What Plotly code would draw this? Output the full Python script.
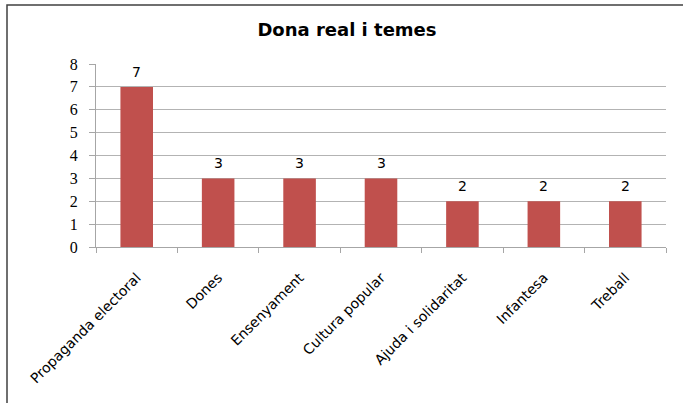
import plotly.graph_objects as go

categories = ["Propaganda electoral", "Dones", "Ensenyament", "Cultura popular",
              "Ajuda i solidaritat", "Infantesa", "Treball"]
values = [7, 3, 3, 3, 2, 2, 2]
y_ticks = [0, 1, 2, 3, 4, 5, 6, 7, 8]

fig = go.Figure(go.Bar(
    x=categories, y=values,
    marker=dict(color="#C0504D", line=dict(width=0)),
))

for c, v in zip(categories, values):
    fig.add_annotation(x=c, y=v, text=str(v), showarrow=False, yanchor="bottom",
                       yshift=5, font=dict(family="DejaVu Sans", size=14, color="#000000"))

fig.update_layout(
    width=683, height=403,
    margin=dict(l=96, r=17, t=64, b=156),
    paper_bgcolor="white", plot_bgcolor="white",
    bargap=0.6,
    showlegend=False,
    title=dict(text="<b>Dona real i temes</b>", x=0.508, xanchor="center",
               y=1 - 30 / 403, yanchor="middle", yref="container",
               font=dict(family="DejaVu Sans", size=18, color="#000000")),
    xaxis=dict(type="category", showgrid=False, showline=True, linecolor="#a6a6a6",
               ticks="outside", tickson="boundaries", ticklen=5, tickcolor="#a6a6a6",
               tickangle=-45, ticklabelstandoff=16,
               tickfont=dict(family="DejaVu Sans", size=14, color="#000000")),
    yaxis=dict(range=[0, 8], tickvals=y_ticks, showgrid=True, gridcolor="#b3b3b3",
               showline=True, linecolor="#a6a6a6", ticks="outside", ticklen=6,
               tickcolor="#a6a6a6", zeroline=False, ticklabelstandoff=8,
               tickfont=dict(family="Liberation Serif", size=16, color="#000000")),
    shapes=[dict(type="rect", xref="paper", yref="paper",
                 x0=(7 - 96) / 570, x1=1.2, y0=-1.0, y1=(247 - 5) / 183,
                 line=dict(color="#404040", width=1.5), fillcolor="rgba(0,0,0,0)",
                 layer="below")],
)

fig.write_html("out.html")
